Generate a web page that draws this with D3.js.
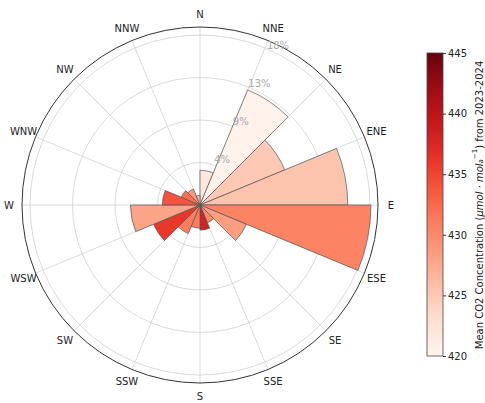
<!DOCTYPE html>
<html><head><meta charset="utf-8">
<script src="https://cdn.jsdelivr.net/npm/d3@7"></script>
<style>body{margin:0;background:#fff;} svg{display:block;font-family:"DejaVu Sans",sans-serif;}</style>
</head><body><svg id="c" width="485" height="403"></svg>
<script>
// ---- data ----
const directions = ["N","NNE","NE","ENE","E","ESE","SE","SSE","S","SSW","SW","WSW","W","WNW","NW","NNW"];
// frequency (%) of each 22.5° sector, clockwise from N
const frequency = [3.6, 12.9, 9.5, 15.3, 17.7, 5.2, 2.0, 2.6, 2.4, 3.2, 5.2, 7.2, 3.9, 2.1, 1.8, 1.0];
// mean CO2 (µmol/mol) in each sector
const meanCO2 = [422, 420.5, 425, 425.5, 430.5, 428.5, 430, 438, 431, 431, 436, 428, 434, 432, 429, 426];
const radialTicks = [4.4, 8.8, 13.2, 17.6];
const radialTickLabels = ["4%", "9%", "13%", "18%"];
const colorTicks = [420, 425, 430, 435, 440, 445];
const colorDomain = [420, 445];

// ---- layout ----
const svg = d3.select("#c");
const cx = 200, cy = 205, R = 178;
const rScale = d3.scaleLinear().domain([0, 18.43]).range([0, R]);
const color = d3.scaleSequential(d3.interpolateReds).domain(colorDomain);
const n = directions.length;
const step = 2 * Math.PI / n;

const g = svg.append("g").attr("transform", `translate(${cx},${cy})`);

// grid circles
g.selectAll("circle.grid").data(radialTicks).join("circle")
  .attr("r", d => rScale(d)).attr("fill", "none")
  .attr("stroke", "#d0d0d0").attr("stroke-width", 0.8);
// spokes
g.selectAll("line.spoke").data(directions).join("line")
  .attr("x1", 0).attr("y1", 0)
  .attr("x2", (d, i) => R * Math.sin(i * step))
  .attr("y2", (d, i) => -R * Math.cos(i * step))
  .attr("stroke", "#d0d0d0").attr("stroke-width", 0.8);

// bars
const arc = d3.arc().innerRadius(0);
g.selectAll("path.bar").data(frequency).join("path")
  .attr("d", (d, i) => arc({outerRadius: rScale(d), startAngle: i * step, endAngle: (i + 1) * step}))
  .attr("fill", (d, i) => color(meanCO2[i]))
  .attr("stroke", "#555").attr("stroke-width", 0.7);

// outer frame
g.append("circle").attr("r", R).attr("fill", "none").attr("stroke", "#333").attr("stroke-width", 1);

// radial labels
const la = 26 * Math.PI / 180;
g.selectAll("text.rl").data(radialTicks).join("text")
  .attr("x", d => (rScale(d) + 8) * Math.sin(la))
  .attr("y", d => -(rScale(d) + 8) * Math.cos(la))
  .attr("text-anchor", "middle").attr("dominant-baseline", "central")
  .attr("font-size", 10).attr("fill", "#aaa")
  .text((d, i) => radialTickLabels[i]);

// direction labels
g.selectAll("text.dir").data(directions).join("text")
  .attr("x", (d, i) => 191 * Math.sin(i * step))
  .attr("y", (d, i) => -191 * Math.cos(i * step))
  .attr("text-anchor", "middle").attr("dominant-baseline", "central")
  .attr("font-size", 10).attr("fill", "#222")
  .text(d => d);

// ---- colorbar ----
const cbX = 427, cbW = 16, cbTop = 53, cbBot = 356;
const cbScale = d3.scaleLinear().domain(colorDomain).range([cbBot, cbTop]);
const defs = svg.append("defs");
const grad = defs.append("linearGradient").attr("id", "cbg")
  .attr("x1", 0).attr("y1", 1).attr("x2", 0).attr("y2", 0);
d3.range(0, 1.0001, 0.05).forEach(t => {
  grad.append("stop").attr("offset", t).attr("stop-color", d3.interpolateReds(t));
});
svg.append("rect").attr("x", cbX).attr("y", cbTop).attr("width", cbW).attr("height", cbBot - cbTop)
  .attr("fill", "url(#cbg)").attr("stroke", "#444").attr("stroke-width", 0.8);
const cbAxis = d3.axisRight(cbScale).tickValues(colorTicks).tickSize(3).tickPadding(2);
const ax = svg.append("g").attr("transform", `translate(${cbX + cbW},0)`).call(cbAxis);
ax.select(".domain").remove();
ax.selectAll("text").attr("font-size", 10).attr("fill", "#222").attr("font-family", "DejaVu Sans, sans-serif");
ax.selectAll("line").attr("stroke", "#333");

// colorbar label
const lbl = svg.append("text").attr("transform", `translate(479,205) rotate(-90)`)
  .attr("text-anchor", "middle").attr("dominant-baseline", "central")
  .attr("font-size", 10).attr("fill", "#222");
lbl.append("tspan").text("Mean CO2 Concentration (");
lbl.append("tspan").attr("font-style", "italic").text("μmol · mol");
lbl.append("tspan").attr("font-style", "italic").attr("font-size", 7).attr("dy", 2).text("a");
lbl.append("tspan").attr("font-size", 7).attr("dy", -6).text("−1");
lbl.append("tspan").attr("dy", 4).text(") from 2023-2024");
</script></body></html>
